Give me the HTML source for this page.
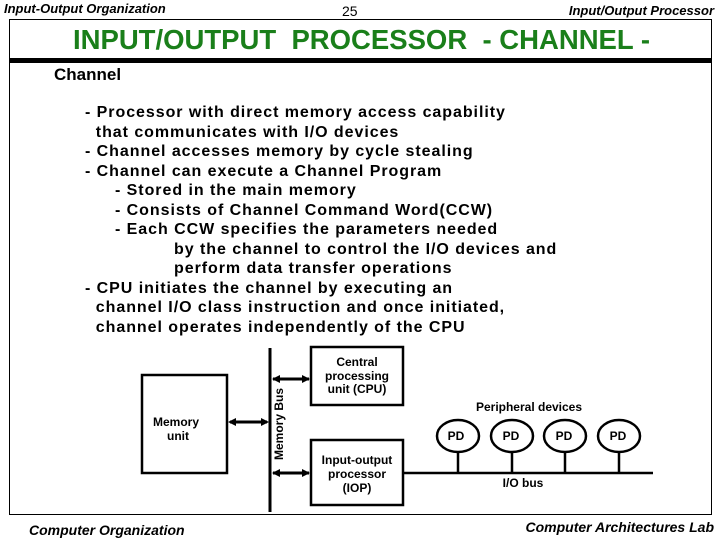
<!DOCTYPE html>
<html><head><meta charset="utf-8"><style>
body{margin:0;width:720px;height:540px;background:#fff;position:relative;overflow:hidden;font-family:"Liberation Sans",Arial,sans-serif;}
.a{position:absolute;white-space:nowrap;}
.hd{font-style:italic;font-weight:bold;font-size:13px;}
.t{font-weight:bold;font-size:16px;letter-spacing:0.95px;line-height:19.5px;}
</style></head><body>
<div class="a hd" style="left:4px;top:1px;">Input-Output Organization</div>
<div class="a" style="left:342px;top:3px;font-size:14px;">25</div>
<div class="a hd" style="right:6px;top:3px;">Input/Output Processor</div>
<div class="a" style="left:9px;top:19px;width:701px;height:494px;border:1px solid #000;"></div>
<div class="a" style="left:9px;top:58px;width:703px;height:5px;background:#000;"></div>
<div class="a" style="left:0;width:723px;text-align:center;top:24px;font-size:27.5px;font-weight:bold;color:#1a7f1a;">INPUT/OUTPUT&nbsp; PROCESSOR&nbsp; - CHANNEL -</div>
<div class="a" style="left:54px;top:65px;font-size:17px;font-weight:bold;">Channel</div>
<div class="a t" style="left:85px;top:103px;">
- Processor with direct memory access capability<br>
&nbsp; that communicates with I/O devices<br>
- Channel accesses memory by cycle stealing<br>
- Channel can execute a Channel Program<br>
<span style="padding-left:30px">- Stored in the main memory</span><br>
<span style="padding-left:30px">- Consists of Channel Command Word(CCW)</span><br>
<span style="padding-left:30px">- Each CCW specifies the parameters needed</span><br>
<span style="padding-left:89px">by the channel to control the I/O devices and</span><br>
<span style="padding-left:89px">perform data transfer operations</span><br>
- CPU initiates the channel by executing an<br>
&nbsp; channel I/O class instruction and once initiated,<br>
&nbsp; channel operates independently of the CPU
</div>
<svg class="a" style="left:0;top:0" width="720" height="540">
<g stroke="#000" fill="none" stroke-width="2.5">
<rect x="142" y="375" width="85" height="98"/>
<rect x="311" y="347" width="92" height="58"/>
<rect x="311" y="440" width="92" height="65"/>
<line x1="270" y1="348" x2="270" y2="512" stroke-width="3"/>
<line x1="230" y1="422" x2="267" y2="422" stroke-width="3"/>
<line x1="273" y1="379" x2="309" y2="379" stroke-width="3"/>
<line x1="273" y1="473" x2="309" y2="473" stroke-width="3"/>
<line x1="403" y1="473" x2="653" y2="473"/>
<ellipse cx="458" cy="436" rx="21" ry="16"/>
<ellipse cx="512" cy="436" rx="21" ry="16"/>
<ellipse cx="565" cy="436" rx="21" ry="16"/>
<ellipse cx="619" cy="436" rx="21" ry="16"/>
<line x1="458" y1="452" x2="458" y2="473"/>
<line x1="512" y1="452" x2="512" y2="473"/>
<line x1="565" y1="452" x2="565" y2="473"/>
<line x1="619" y1="452" x2="619" y2="473"/>
</g>
<g fill="#000">
<polygon points="228,422 236,418 236,426"/><polygon points="269,422 261,418 261,426"/>
<polygon points="272,379 280,375 280,383"/><polygon points="310,379 302,375 302,383"/>
<polygon points="272,473 280,469 280,477"/><polygon points="310,473 302,469 302,477"/>
</g>
<g font-family="Liberation Sans,Arial,sans-serif" font-size="12" font-weight="bold" text-anchor="middle">
<text x="176" y="426">Memory</text><text x="178" y="440">unit</text>
<text x="357" y="366">Central</text><text x="357" y="380">processing</text><text x="357" y="393">unit (CPU)</text>
<text x="357" y="464">Input-output</text><text x="357" y="478">processor</text><text x="357" y="492">(IOP)</text>
<text x="529" y="411">Peripheral devices</text>
<text x="456" y="440">PD</text><text x="511" y="440">PD</text><text x="564" y="440">PD</text><text x="618" y="440">PD</text>
<text x="523" y="487">I/O bus</text>
<text transform="translate(283,424) rotate(-90)">Memory Bus</text>
</g>
</svg>
<div class="a hd" style="left:29px;top:522px;font-size:14px;">Computer Organization</div>
<div class="a hd" style="right:6px;top:519px;font-size:14px;">Computer Architectures Lab</div>
</body></html>
